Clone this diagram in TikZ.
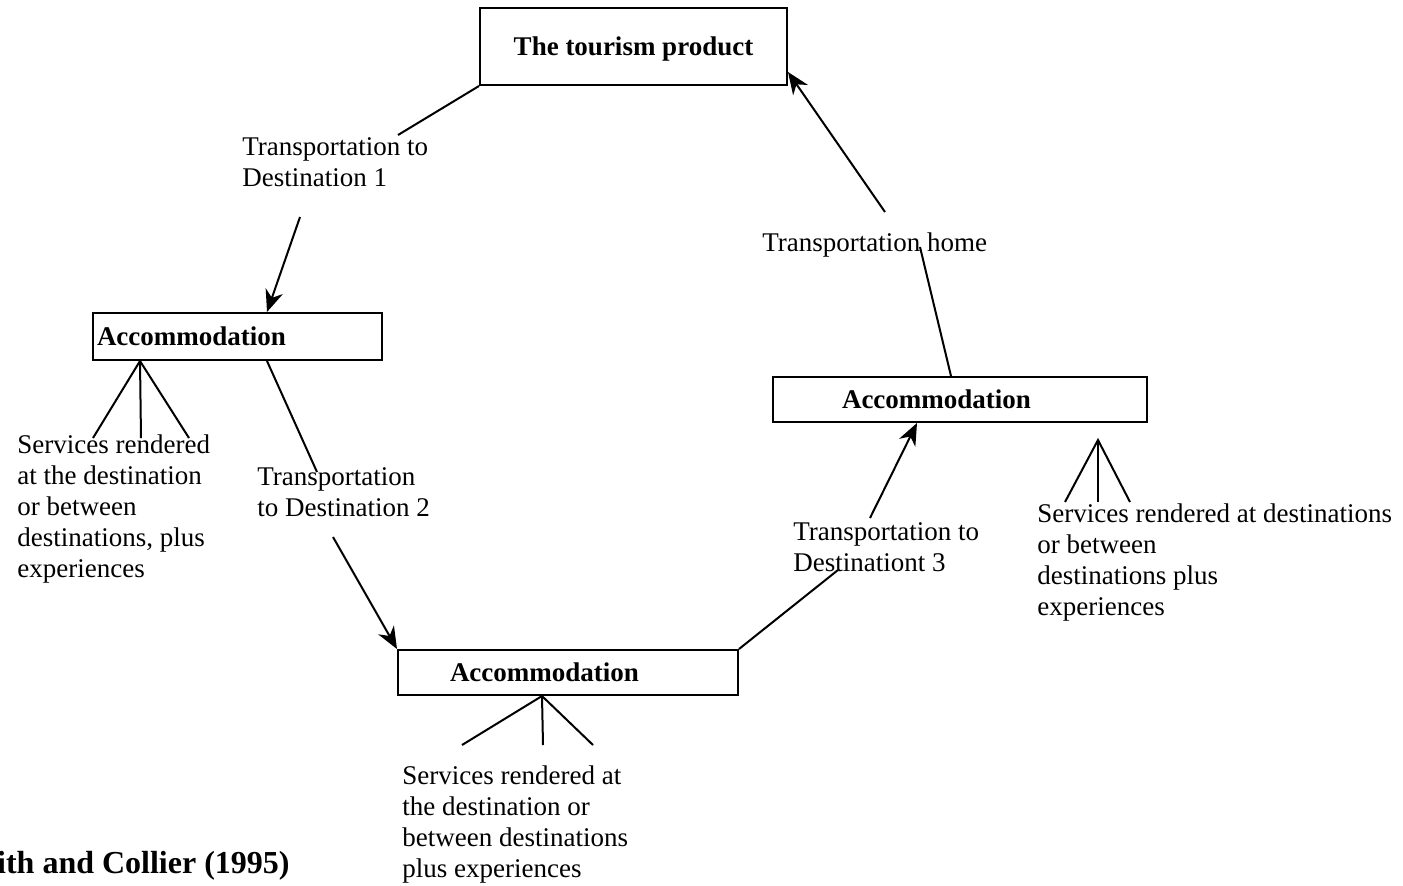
\documentclass[tikz,border=0pt]{standalone}
\usepackage{fontspec}
\setmainfont{Liberation Serif}
\usetikzlibrary{arrows.meta}
\begin{document}
\begin{tikzpicture}[x=0.5pt,y=-0.5pt,
  box/.style={draw,line width=1pt,inner ysep=0pt,font=\fontsize{13.5}{15.5}\selectfont\bfseries},
  txt/.style={inner sep=0pt,anchor=base west,align=left,font=\fontsize{13.5}{15.5}\selectfont},
  conn/.style={line width=1pt},
  arr/.style={line width=1pt,-{Stealth[length=11pt,width=9pt,inset=3.5pt]}}]
\useasboundingbox (0,0) rectangle (1403,885);
\fill[white] (0,0) rectangle (1403,885);
% boxes
\node[box,minimum width=153.5pt,minimum height=38.5pt,text depth=0pt,text height=9pt] (tp) at (633.5,46.5) {The tourism product};
\node[box,minimum width=144.5pt,minimum height=23.5pt,inner xsep=2pt,text width=140.5pt,align=left] (a1) at (237.5,336.5) {Accommodation};
\node[box,minimum width=170pt,minimum height=22.5pt,inner xsep=26pt,text width=118pt,align=left] (a2) at (568,672.5) {Accommodation};
\node[box,minimum width=187pt,minimum height=22.5pt,inner xsep=34.5pt,text width=118pt,align=left] (a3) at (960,399.5) {Accommodation};
% labels (anchored at the baseline of their last line)
\node[txt] (t1) at (242,186) {Transportation to\\Destination 1};
\node[txt] (s1) at (17,577) {Services rendered\\at the destination\\or between\\destinations, plus\\experiences};
\node[txt] (t2) at (257,516) {Transportation\\to Destination 2};
\node[txt] (t3) at (793,571) {Transportation to\\Destinationt 3};
\node[txt] (th) at (762,251) {Transportation home};
\node[txt] (s3) at (1037,615) {Services rendered at destinations\\or between\\destinations plus\\experiences};
\node[txt] (s2) at (402,877) {Services rendered at\\the destination or\\between destinations\\plus experiences};
\node[inner sep=0pt,anchor=base east,font=\fontsize{16}{19}\selectfont\bfseries] (cap) at (290,873) {ith and Collier (1995)};
% free ends
\coordinate (c1a) at (398,135);
\coordinate (c1b) at (300,217);
\coordinate (c2a) at (317,472);
\coordinate (c2b) at (333,537);
\coordinate (c3a) at (838,570);
\coordinate (c3b) at (870,518);
\coordinate (cha) at (920,247);
\coordinate (chb) at (885,212);
\coordinate (f1a) at (93,438);
\coordinate (f1b) at (141,438);
\coordinate (f1c) at (189,438);
\coordinate (f2a) at (462,745);
\coordinate (f2b) at (543,745);
\coordinate (f2c) at (593,745);
\coordinate (f3o) at (1098,440);
\coordinate (f3a) at (1065,502);
\coordinate (f3b) at (1098,502);
\coordinate (f3c) at (1130,502);
% connectors
\draw[conn] (tp.south west) -- (c1a);
\draw[arr] (c1b) -- ([xshift=87.5pt]a1.north west);
\draw[conn] ([xshift=87.5pt]a1.south west) -- (c2a);
\draw[arr] (c2b) -- (a2.north west);
\draw[conn] (a2.north east) -- (c3a);
\draw[arr] (c3b) -- ([xshift=72.5pt]a3.south west);
\draw[conn] ([xshift=89.5pt]a3.north west) -- (cha);
\draw[arr] (chb) -- ([yshift=-12.75pt]tp.east);
% fans
\draw[conn] (f1a) -- ([xshift=24pt]a1.south west) -- (f1c);
\draw[conn] ([xshift=24pt]a1.south west) -- (f1b);
\draw[conn] (f2a) -- ([xshift=72.5pt]a2.south west) -- (f2c);
\draw[conn] ([xshift=72.5pt]a2.south west) -- (f2b);
\draw[conn] (f3a) -- (f3o) -- (f3c);
\draw[conn] (f3o) -- (f3b);
\end{tikzpicture}
\end{document}
